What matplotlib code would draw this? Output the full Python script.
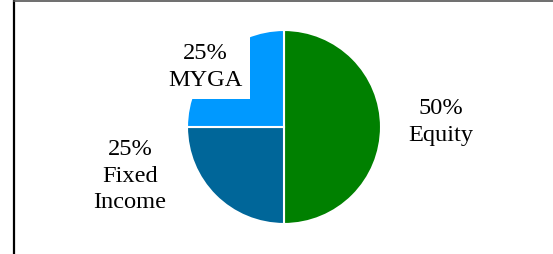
import matplotlib
matplotlib.use("Agg")
import matplotlib.pyplot as plt
from matplotlib.lines import Line2D

categories = ["Equity", "Fixed Income", "MYGA"]
values = [50, 25, 25]
colors = ["#008000", "#006699", "#0099FF"]
label_texts = ["50%\nEquity", "25%\nFixed\nIncome", "25%\nMYGA"]

W, H = 553, 254
fig = plt.figure(figsize=(W / 100, H / 100), dpi=100)
fig.patch.set_facecolor("white")

# pie axes: square of 194 px centred at (284, 127) px (top-down coords)
cx, cy, r = 284, 127, 97
ax = fig.add_axes([(cx - r) / W, (H - cy - r) / H, 2 * r / W, 2 * r / H])
ax.pie(values, colors=colors, startangle=90, counterclock=False, radius=1,
       wedgeprops=dict(edgecolor="white", linewidth=1.5))
ax.set_xlim(-1, 1)
ax.set_ylim(-1, 1)
ax.set_axis_off()

font = dict(family="Liberation Serif", fontsize=17.6, color="black",
            ha="center", va="center", linespacing=1.34)

def fx(px):
    return px / W

def fy(py):
    return 1 - py / H

fig.text(fx(441), fy(122), label_texts[0], **font)
fig.text(fx(130), fy(176), label_texts[1], **font)
fig.text(fx(205), fy(67), label_texts[2],
         bbox=dict(facecolor="white", edgecolor="none", pad=6), **font)

# frame lines
fig.add_artist(Line2D([fx(14), fx(14)], [0, 1], color="black", linewidth=1.6,
                      transform=fig.transFigure))
fig.add_artist(Line2D([fx(14), 1], [fy(0.5), fy(0.5)], color="#555555",
                      linewidth=1.2, transform=fig.transFigure))

fig.savefig("out.png", dpi=100)
